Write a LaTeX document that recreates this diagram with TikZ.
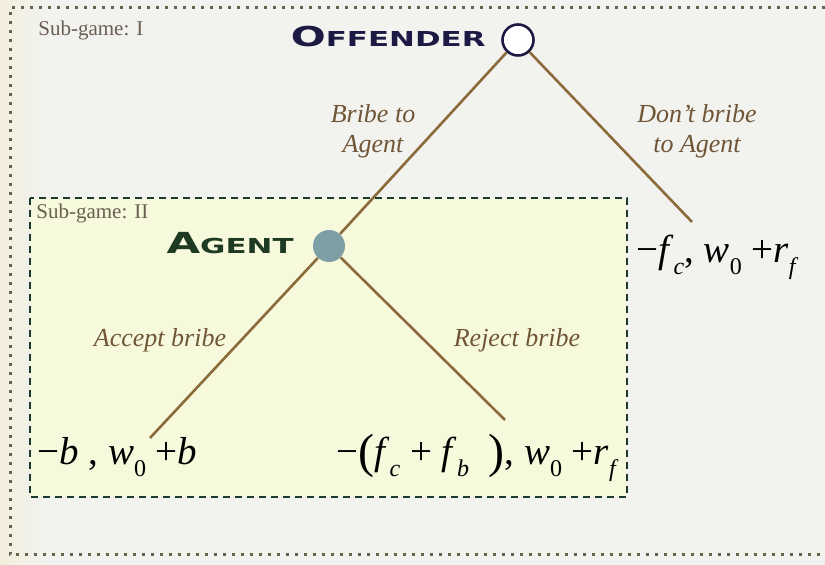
\documentclass[tikz,border=0pt]{standalone}
\usepackage{fontspec}
\setmainfont{Liberation Serif}
\newfontfamily\capsfont{DejaVu Sans}
\usetikzlibrary{calc}
\definecolor{bgc}{HTML}{F2F2EF}
\definecolor{leftc}{HTML}{F3EFDC}
\definecolor{boxc}{HTML}{F6F9DC}
\definecolor{dotc}{HTML}{66644A}
\definecolor{dashc}{HTML}{1C3833}
\definecolor{branchc}{HTML}{8C6B3B}
\definecolor{labc}{HTML}{705637}
\definecolor{subc}{HTML}{6A5E52}
\definecolor{offc}{HTML}{1C1A45}
\definecolor{agc}{HTML}{1F3A22}
\definecolor{agfill}{HTML}{7E9FA6}
\newcommand\sbs[1]{\raisebox{-0.3em}{\fontsize{12}{12}\selectfont #1}}
\newcommand\bigpar[1]{{\fontsize{24}{24}\selectfont\raisebox{-0.06em}{#1}}}
\begin{document}
\begin{tikzpicture}[x=0.5pt,y=-0.5pt,
  branch/.style={draw=branchc,line width=1.3pt},
  lab/.style={font=\itshape\fontsize{13}{15}\selectfont,text=labc,align=center,inner sep=0pt},
  sublab/.style={font=\fontsize{10.5}{12}\selectfont,text=subc,inner sep=0pt,anchor=base west},
  payoff/.style={font=\fontsize{19.5}{22}\selectfont,text=black,inner sep=0pt,anchor=base west},
  player/.style={font=\capsfont\bfseries,inner sep=0pt,anchor=base east}]
\useasboundingbox (0,0) rectangle (825,565);
\fill[bgc] (0,0) rectangle (825,565);
\shade[left color=leftc,right color=bgc] (0,0) rectangle (45,565);
% outer dotted frame
\draw[dotc,line width=1.5pt,dash pattern=on 1.5pt off 3pt] (825,8) -- (10,8) -- (10,555) -- (825,555);
% inner sub-game box
\draw[dashc,fill=boxc,line width=1.4pt,dash pattern=on 3.6pt off 2.4pt] (30,198) rectangle (627,497);
% players
\node[circle,draw=offc,fill=white,line width=1.3pt,minimum size=15.5pt,inner sep=0pt] (off) at (518,40) {};
\node[circle,fill=agfill,minimum size=16pt,inner sep=0pt] (ag) at (329,246) {};
\coordinate (nf) at (692,222);
\coordinate (na) at (150,438);
\coordinate (nr) at (505,420);
\draw[branch] (off) -- (ag);
\draw[branch] (off) -- (nf);
\draw[branch] (ag) -- (na);
\draw[branch] (ag) -- (nr);
% texts
\node[sublab] (s1) at (38,36) {Sub-game: I};
\node[sublab] (s2) at (36,219) {Sub-game: II};
\node[player,text=offc] (offt) at (486,47) {\scalebox{1.5}[1]{\fontsize{13.7}{14}\selectfont O\fontsize{10.3}{11}\selectfont FFENDER}};
\node[player,text=agc] (agt) at (294,254) {\scalebox{1.5}[1]{\fontsize{14.5}{15}\selectfont A\fontsize{10.3}{11}\selectfont GENT}};
\node[lab] (l1) at (373,131) {Bribe to\\Agent};
\node[lab] (l2) at (697,131) {Don’t bribe\\to Agent};
\node[lab] (l3) at (160,340) {Accept bribe};
\node[lab] (l4) at (517,340) {Reject bribe};
\node[payoff] (p1) at (37,465) {−\textit{b}\ ,\ \textit{w}\sbs{0}\ +\textit{b}};
\node[payoff] (p2) at (336,465) {−\bigpar{(}\textit{f}\sbs{\textit{c}}\ +\ \textit{f}\sbs{\textit{b}}\ \ \bigpar{)}, \textit{w}\sbs{0}\ +\textit{r}\sbs{\textit{f}}};
\node[payoff] (p3) at (636,263) {−\textit{f}\sbs{\textit{c}}, \textit{w}\sbs{0}\ +\textit{r}\sbs{\textit{f}}};
\end{tikzpicture}
\end{document}
